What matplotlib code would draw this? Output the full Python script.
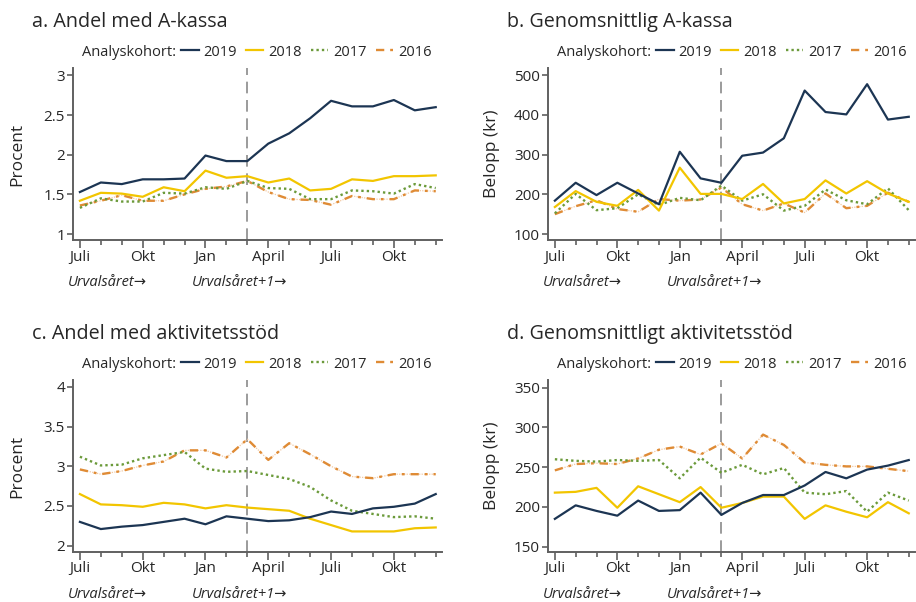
import numpy as np
import matplotlib
matplotlib.use("Agg")
import matplotlib.pyplot as plt
from matplotlib.ticker import FixedLocator, FuncFormatter

plt.rcParams['font.family'] = ['Open Sans', 'DejaVu Sans']

W, H = 916, 602

months = list(range(18))
major_pos = [0, 3, 6, 9, 12, 15]
major_labels = ['Juli', 'Okt', 'Jan', 'April', 'Juli', 'Okt']
cohorts = ['2019', '2018', '2017', '2016']

# Panel a: Andel med A-kassa (Procent)
a_2019 = [1.53, 1.65, 1.63, 1.69, 1.69, 1.70, 1.99, 1.92, 1.92, 2.14, 2.27, 2.46, 2.68, 2.61, 2.61, 2.69, 2.56, 2.60]
a_2018 = [1.42, 1.52, 1.51, 1.47, 1.59, 1.54, 1.80, 1.71, 1.73, 1.65, 1.70, 1.55, 1.57, 1.69, 1.67, 1.73, 1.73, 1.74]
a_2017 = [1.33, 1.45, 1.41, 1.41, 1.52, 1.51, 1.59, 1.57, 1.67, 1.58, 1.57, 1.44, 1.44, 1.55, 1.54, 1.51, 1.63, 1.58]
a_2016 = [1.36, 1.42, 1.49, 1.42, 1.42, 1.50, 1.57, 1.60, 1.67, 1.53, 1.44, 1.43, 1.37, 1.48, 1.44, 1.44, 1.55, 1.54]

# Panel b: Genomsnittlig A-kassa (kr)
b_2019 = [184, 229, 198, 229, 202, 175, 307, 240, 229, 297, 305, 341, 461, 407, 401, 477, 388, 395]
b_2018 = [168, 208, 181, 171, 211, 159, 267, 201, 201, 188, 226, 177, 188, 235, 202, 233, 202, 181]
b_2017 = [152, 201, 160, 165, 200, 173, 191, 185, 222, 184, 200, 159, 171, 212, 185, 175, 215, 160]
b_2016 = [150, 170, 185, 163, 156, 188, 184, 187, 217, 175, 159, 177, 154, 202, 165, 171, 204, 181]

# Panel c: Andel med aktivitetsstöd (Procent)
c_2019 = [2.30, 2.21, 2.24, 2.26, 2.30, 2.34, 2.27, 2.37, 2.34, 2.31, 2.32, 2.36, 2.43, 2.40, 2.47, 2.49, 2.53, 2.65]
c_2018 = [2.65, 2.52, 2.51, 2.49, 2.54, 2.52, 2.47, 2.51, 2.48, 2.46, 2.44, 2.34, 2.26, 2.18, 2.18, 2.18, 2.22, 2.23]
c_2017 = [3.12, 3.01, 3.02, 3.10, 3.14, 3.18, 2.97, 2.93, 2.94, 2.89, 2.84, 2.74, 2.57, 2.44, 2.40, 2.36, 2.37, 2.34]
c_2016 = [2.96, 2.90, 2.94, 3.01, 3.06, 3.20, 3.20, 3.11, 3.34, 3.08, 3.29, 3.15, 3.00, 2.87, 2.85, 2.90, 2.90, 2.90]

# Panel d: Genomsnittligt aktivitetsstöd (kr)
d_2019 = [185, 202, 195, 189, 208, 195, 196, 218, 190, 205, 215, 215, 227, 244, 236, 247, 252, 259]
d_2018 = [218, 219, 224, 199, 226, 216, 206, 225, 199, 205, 213, 213, 185, 202, 194, 187, 206, 192]
d_2017 = [260, 258, 257, 259, 258, 259, 236, 262, 243, 253, 241, 249, 218, 216, 220, 194, 218, 208]
d_2016 = [246, 254, 255, 254, 261, 272, 276, 266, 280, 261, 291, 278, 256, 253, 251, 251, 248, 245]

titles = ['a. Andel med A-kassa', 'b. Genomsnittlig A-kassa',
          'c. Andel med aktivitetsstöd', 'd. Genomsnittligt aktivitetsstöd']
ylabels = ['Procent', 'Belopp (kr)', 'Procent', 'Belopp (kr)']
yticks_list = [[1, 1.5, 2, 2.5, 3], [100, 200, 300, 400, 500],
               [2, 2.5, 3, 3.5, 4], [150, 200, 250, 300, 350]]
ylims = [(0.925, 3.09), (85, 517), (1.925, 4.085), (143.7, 359.7)]
panels = [[a_2019, a_2018, a_2017, a_2016], [b_2019, b_2018, b_2017, b_2016],
          [c_2019, c_2018, c_2017, c_2016], [d_2019, d_2018, d_2017, d_2016]]

C19 = '#1c3553'
C18 = '#f2c500'
C17 = '#6b9a3a'
C16 = '#df8b35'
TXT = '#262626'
SPINE = '#606060'

fig = plt.figure(figsize=(W / 100, H / 100), dpi=100)

def fx(px):
    return px / W

def fy(py):
    return 1 - py / H

# axes boxes in pixels: left, top, right, bottom
boxes = [(73, 68.3, 442, 240), (548, 68.3, 915, 240),
         (73, 380, 442, 551.7), (548, 380, 915, 551.7)]
offs = [(0, 0), (475, 0), (0, 312), (475, 312)]

def fmt(v, pos):
    return ('%g' % v)

for i in range(4):
    l, t, r, b = boxes[i]
    ax = fig.add_axes([fx(l), fy(b), (r - l) / W, (b - t) / H])
    s19, s18, s17, s16 = panels[i]
    ax.axvline(8, color='#8a8a8a', lw=1.2, linestyle=(0, (7, 4)), zorder=1)
    ax.plot(months, s16, color='#f3c9a2', lw=0.9, linestyle=(0, (1, 1)), zorder=2)
    h16, = ax.plot(months, s16, color=C16, lw=1.7, linestyle=(0, (3.5, 2.5, 1.2, 2.5)), zorder=3)
    h17, = ax.plot(months, s17, color=C17, lw=1.7, linestyle=(0, (1, 1.3)), zorder=4)
    h18, = ax.plot(months, s18, color=C18, lw=1.6, zorder=5)
    h19, = ax.plot(months, s19, color=C19, lw=1.6, zorder=6)

    ax.set_xlim(-0.33, 17.3)
    ax.set_ylim(*ylims[i])
    ax.set_yticks(yticks_list[i])
    ax.yaxis.set_major_formatter(FuncFormatter(fmt))
    ax.set_xticks(major_pos)
    ax.set_xticklabels(major_labels)
    ax.xaxis.set_minor_locator(FixedLocator([m for m in months if m not in major_pos]))
    for side in ['top', 'right']:
        ax.spines[side].set_visible(False)
    for side in ['left', 'bottom']:
        ax.spines[side].set_color(SPINE)
        ax.spines[side].set_linewidth(1.4)
    ax.tick_params(axis='x', which='major', length=6, width=1.2, color=SPINE,
                   labelsize=11, labelcolor=TXT, pad=1.0)
    ax.tick_params(axis='x', which='minor', length=3.3, width=1.2, color=SPINE)
    ax.tick_params(axis='y', length=4.5, width=1.2, color=SPINE,
                   labelsize=11, labelcolor=TXT, pad=1.2)
    ax.patch.set_alpha(0)

    ox, oy = offs[i]
    fig.text(fx(32 + ox), fy(22 + oy), titles[i], fontsize=14.2, color=TXT,
             ha='left', va='center')
    fig.text(fx(82 + ox), fy(52 + oy), 'Analyskohort:', fontsize=10.5, color=TXT,
             ha='left', va='center')
    fig.legend([h19, h18, h17, h16], cohorts, loc='center left',
               bbox_to_anchor=(fx(181 + ox), fy(52 + oy)), ncol=4, frameon=False,
               fontsize=10.5, handlelength=1.2, handletextpad=0.35,
               columnspacing=0.6, borderpad=0, borderaxespad=0,
               labelcolor=TXT)
    fig.text(fx(17 + ox), fy(154 + oy), ylabels[i], fontsize=12.5, color=TXT,
             rotation=90, ha='center', va='center')
    fig.text(fx(68 + ox), fy(283 + oy), 'Urvalsåret→', fontsize=10.5, color=TXT,
             style='italic', ha='left', va='center')
    fig.text(fx(192 + ox), fy(282 + oy), 'Urvalsåret+1→', fontsize=10.5, color=TXT,
             style='italic', ha='left', va='center')

fig.savefig('out.png', dpi=100)
